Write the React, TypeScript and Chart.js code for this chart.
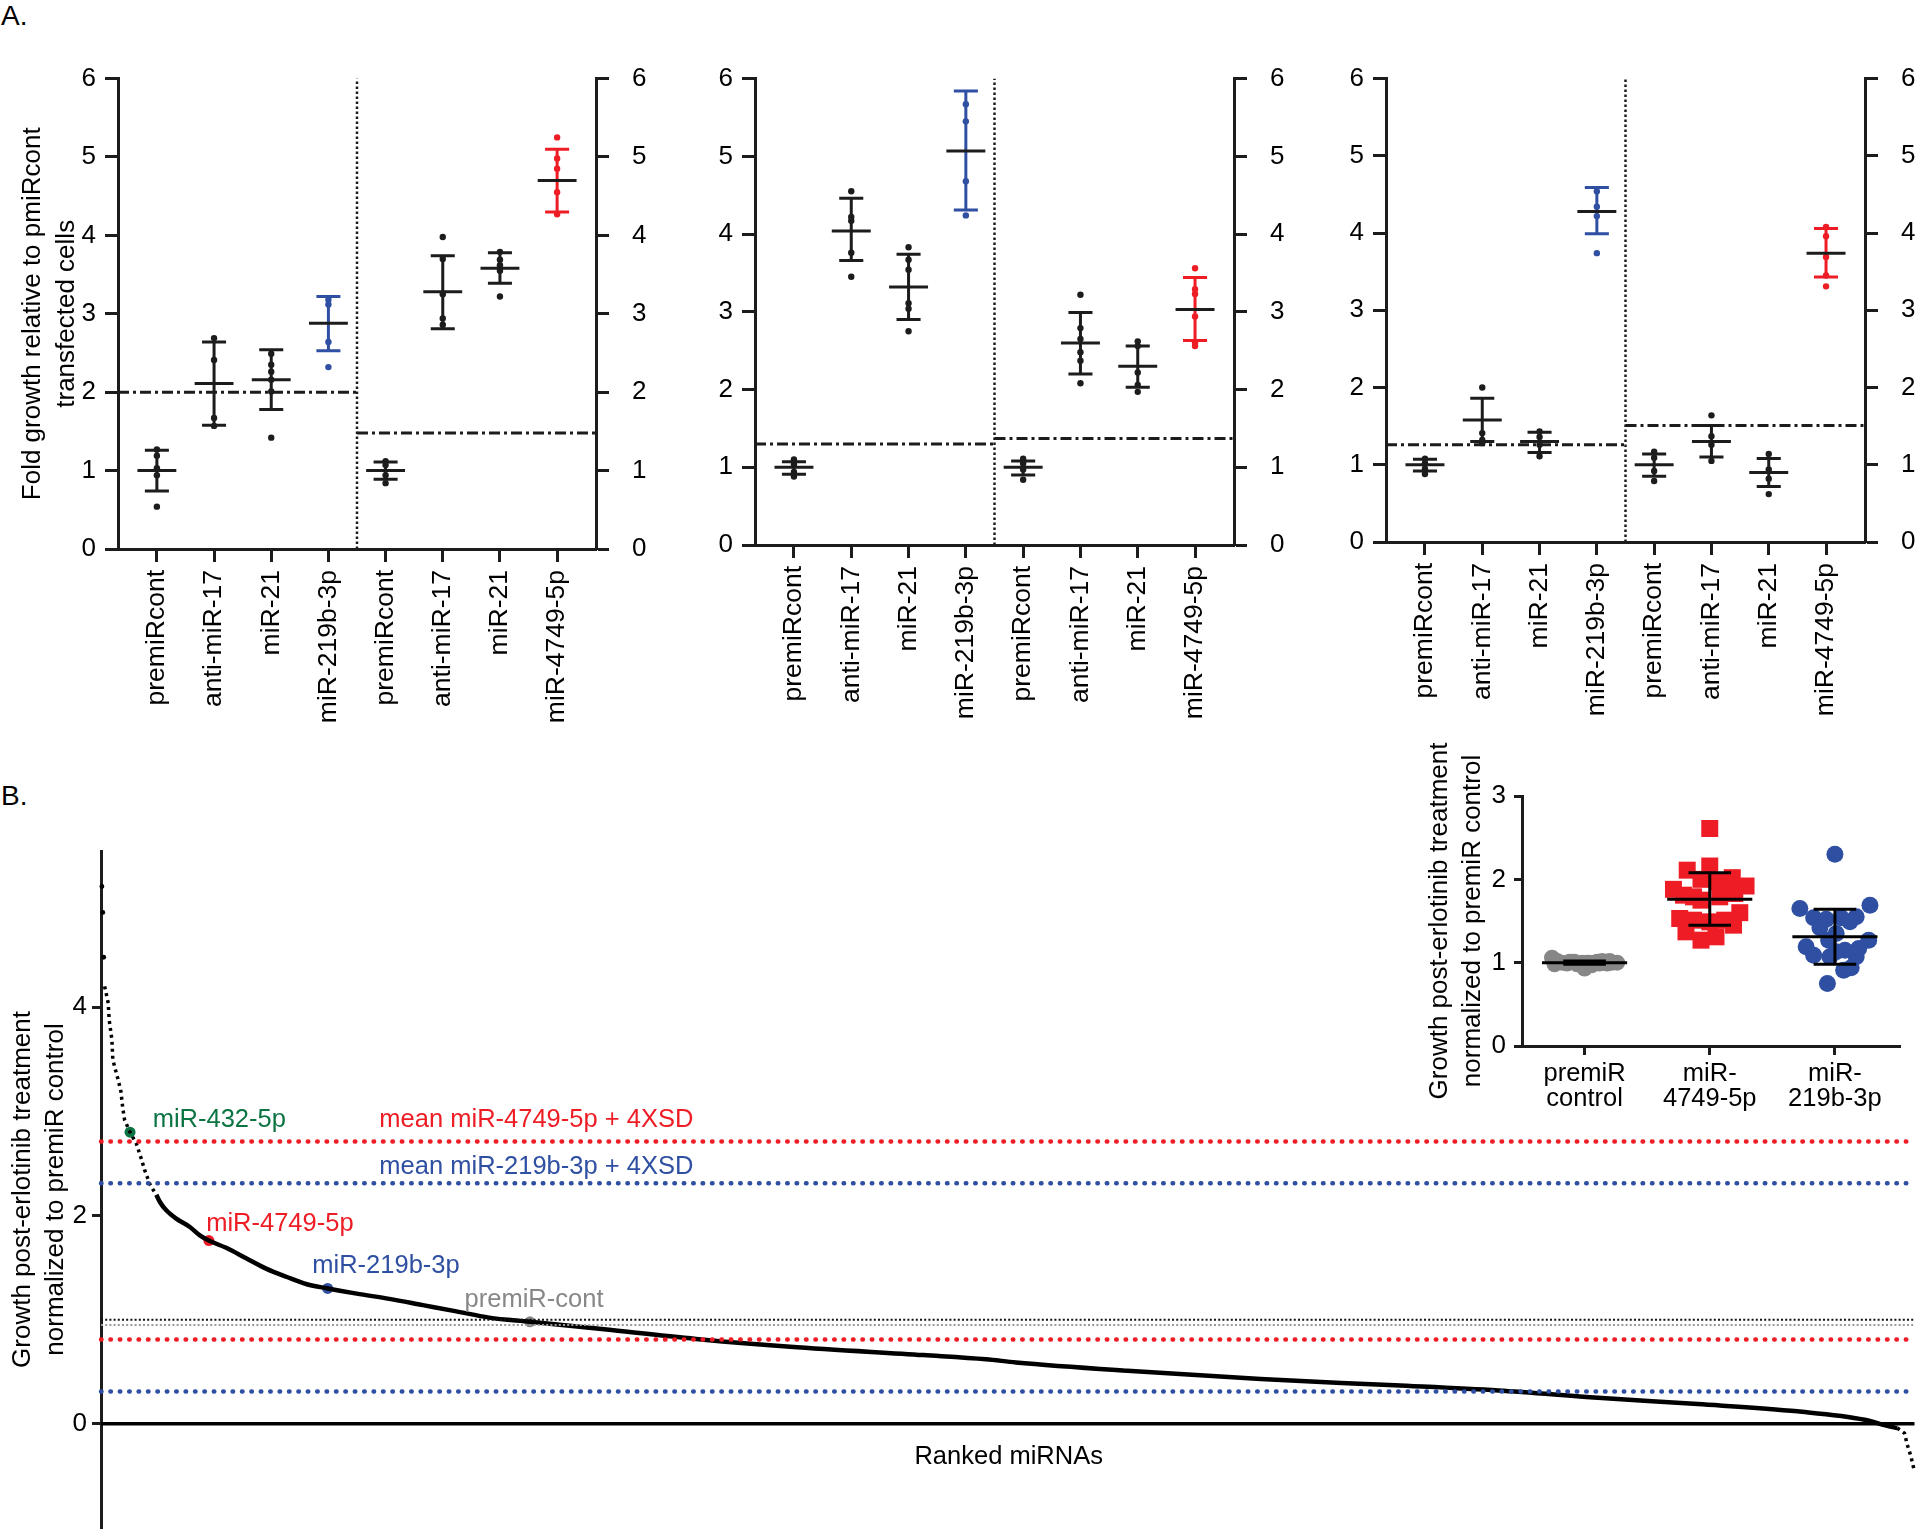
import React, { useEffect, useRef } from 'react';
import { Chart, registerables } from 'chart.js';

Chart.register(...registerables);

const FONT = '"Liberation Sans", Arial, Helvetica, sans-serif';
Chart.defaults.font.family = FONT;
Chart.defaults.color = '#000';

const INK = '#1c1c1c';
const BLUE = '#2f4fa2';
const RED = '#ee1d25';
const GREEN = '#0c7442';
const GREY = '#878787';

// ---------------- Panel A data ----------------
const aCategories = ['premiRcont', 'anti-miR-17', 'miR-21', 'miR-219b-3p', 'premiRcont', 'anti-miR-17', 'miR-21', 'miR-4749-5p'];
const aColorKeys = ['k', 'k', 'k', 'b', 'k', 'k', 'k', 'r'];

const a1Points = [
  [1.27, 1.19, 1.03, 0.94, 0.54],
  [2.69, 2.41, 1.67, 1.57],
  [2.49, 2.35, 2.26, 2.16, 2.01, 1.42],
  [3.18, 3.12, 2.64, 2.32],
  [1.12, 1.07, 0.94, 0.84],
  [3.98, 3.7, 3.25, 2.94, 2.86],
  [3.79, 3.69, 3.62, 3.55, 3.22],
  [5.25, 4.98, 4.85, 4.55, 4.27],
];
const a1Means = [1.0, 2.11, 2.16, 2.88, 1.0, 3.28, 3.58, 4.7];
const a1SdHigh = [1.26, 2.64, 2.54, 3.22, 1.11, 3.74, 3.78, 5.1];
const a1SdLow = [0.74, 1.58, 1.78, 2.53, 0.89, 2.81, 3.39, 4.3];
const a1RefLines = [2.0, 1.48];

const a2Points = [
  [1.1, 1.04, 0.94, 0.88],
  [4.55, 4.22, 4.17, 3.76, 3.45],
  [3.83, 3.67, 3.54, 3.11, 3.04, 2.75],
  [5.67, 5.45, 4.68, 4.24],
  [1.11, 1.05, 0.97, 0.84],
  [3.22, 2.79, 2.65, 2.48, 2.37, 2.08],
  [2.62, 2.56, 2.22, 2.06, 1.97],
  [3.56, 3.29, 3.23, 2.94, 2.6, 2.56],
];
const a2Means = [1.0, 4.04, 3.32, 5.07, 1.0, 2.6, 2.3, 3.03];
const a2SdHigh = [1.07, 4.46, 3.74, 5.84, 1.08, 2.99, 2.56, 3.44];
const a2SdLow = [0.91, 3.66, 2.9, 4.31, 0.9, 2.2, 2.03, 2.63];
const a2RefLines = [1.3, 1.37];

const a3Points = [
  [1.08, 1.02, 0.95, 0.88],
  [2.0, 1.41, 1.32, 1.28],
  [1.43, 1.36, 1.26, 1.11],
  [4.54, 4.34, 4.22, 3.74],
  [1.17, 1.09, 0.92, 0.79],
  [1.64, 1.37, 1.26, 1.05],
  [1.14, 0.94, 0.82, 0.62],
  [4.08, 3.96, 3.69, 3.45, 3.31],
];
const a3Means = [1.0, 1.58, 1.3, 4.28, 1.0, 1.3, 0.9, 3.74];
const a3SdHigh = [1.07, 1.86, 1.42, 4.59, 1.14, 1.51, 1.08, 4.06];
const a3SdLow = [0.92, 1.3, 1.16, 3.99, 0.85, 1.1, 0.72, 3.43];
const a3RefLines = [1.26, 1.51];

// ---------------- Panel B (ranked screen) data ----------------
const topRanks = [1, 2, 3];
const topValues = [5.16, 4.91, 4.48];
const upperRanks = [4, 8, 9, 12, 13, 15, 19, 22, 24, 26, 32, 39, 45, 48, 54, 58, 61];
const upperValues = [4.2, 4.04, 3.88, 3.69, 3.5, 3.43, 3.3, 3.19, 3.03, 2.92, 2.8, 2.69, 2.53, 2.44, 2.3, 2.24, 2.2];
const mainRanks = [61, 65, 72, 83, 98, 109, 119, 138, 160, 182, 205, 227, 250, 282, 318, 355, 392, 428, 473, 563, 662, 760, 907, 976, 1009, 1132, 1279, 1427, 1541, 1651, 1761, 1871, 1945, 1970, 1981];
const mainValues = [2.2, 2.13, 2.05, 1.97, 1.89, 1.81, 1.76, 1.69, 1.59, 1.49, 1.41, 1.34, 1.3, 1.25, 1.2, 1.14, 1.08, 1.02, 0.98, 0.9, 0.81, 0.74, 0.66, 0.62, 0.59, 0.51, 0.43, 0.37, 0.32, 0.25, 0.19, 0.12, 0.04, -0.02, -0.04];
const tailRanks = [1981, 1989, 1992, 1996, 2000];
const tailValues = [-0.04, -0.09, -0.2, -0.31, -0.46];

const highlightNames = ['miR-432-5p', 'miR-4749-5p', 'miR-219b-3p', 'premiR-cont'];
const highlightRanks = [32, 119, 250, 473];
const highlightValues = [2.8, 1.76, 1.3, 0.98];

const thresholdRed4749Upper = 2.71;
const thresholdBlue219Upper = 2.31;
const controlMeanLine = 1.0;
const controlGreyLine = 0.95;
const thresholdRed4749Lower = 0.81;
const thresholdBlue219Lower = 0.31;

// ---------------- Inset data ----------------
const insetCategories = [['premiR', 'control'], ['miR-', '4749-5p'], ['miR-', '219b-3p']];
const insetControl = [1.06, 1.02, 1.0, 0.99, 1.01, 0.98, 1.0, 1.0, 0.97, 0.93, 1.01, 1.02, 0.99, 1.0, 1.0, 0.98, 1.01, 1.0, 0.99, 1.02, 1.0, 1.01];
const insetControlJitter = [-0.26, -0.22, -0.18, -0.14, -0.1, -0.06, -0.02, 0.02, 0.06, 0.0, 0.1, 0.14, 0.18, 0.22, 0.26, -0.24, -0.12, 0.04, 0.12, 0.2, 0.08, -0.08];
const inset4749 = [2.61, 2.11, 2.16, 2.0, 1.97, 2.02, 1.88, 1.92, 1.81, 1.79, 1.75, 1.79, 1.83, 1.6, 1.53, 1.51, 1.49, 1.51, 1.45, 1.37, 1.27, 1.31];
const inset4749Jitter = [0, -0.18, 0, -0.07, 0.07, 0.18, -0.29, 0.29, -0.21, -0.13, -0.07, 0.08, 0.2, 0.24, -0.24, -0.13, 0, 0.12, 0.19, -0.19, -0.07, 0.05];
const inset219 = [2.3, 1.65, 1.69, 1.54, 1.52, 1.54, 1.55, 1.49, 1.42, 1.35, 1.27, 1.27, 1.19, 1.15, 1.17, 1.09, 1.07, 1.13, 1.07, 0.91, 0.94, 0.75];
const inset219Jitter = [0, -0.28, 0.28, -0.17, -0.07, 0.05, 0.17, 0.12, -0.12, 0.01, -0.05, 0.27, -0.23, 0.08, 0.19, -0.17, -0.04, 0.01, 0.17, 0.07, 0.13, -0.06];
const insetMeans = [1.0, 1.76, 1.31];
const insetSdHigh = [1.02, 2.08, 1.64];
const insetSdLow = [0.98, 1.45, 0.98];

// ---------------- helpers ----------------
const baseOptions = (padding: any) => ({
  responsive: false,
  maintainAspectRatio: false,
  animation: false,
  devicePixelRatio: 1,
  events: [],
  layout: { padding },
  plugins: { legend: { display: false }, tooltip: { enabled: false } },
});

const tickGrid = (len: number) => ({
  display: true,
  drawOnChartArea: false,
  drawTicks: true,
  tickLength: len,
  tickWidth: 3,
  tickColor: INK,
  color: INK,
});
const axisBorder = { display: true, width: 3, color: INK };

function ChartBox({ left, top, width, height, make }: { left: number; top: number; width: number; height: number; make: () => any }) {
  const ref = useRef<HTMLCanvasElement | null>(null);
  useEffect(() => {
    if (!ref.current) return;
    const chart = new Chart(ref.current, make());
    return () => chart.destroy();
  }, []);
  return <canvas ref={ref} width={width} height={height} style={{ position: 'absolute', left, top, width, height }} />;
}

type PanelAData = { points: number[][]; means: number[]; sdHi: number[]; sdLo: number[]; refs: number[] };
type PanelALayout = { leftW: number; rightW: number; padTop: number; xH: number; title?: string[] };

function panelAConfig(d: PanelAData, lay: PanelALayout) {
  const X_MIN = -0.68;
  const X_MAX = 7.68;
  const DIV = 3.5;
  const keyColor = (k: string) => (k === 'b' ? BLUE : k === 'r' ? RED : INK);
  const dots: Record<string, { x: number; y: number }[]> = { k: [], b: [], r: [] };
  d.points.forEach((vals, i) => vals.forEach((v) => dots[aColorKeys[i]].push({ x: i, y: v })));
  const refStyle = { type: 'line', borderColor: INK, borderWidth: 3, borderDash: [11, 4, 3, 4], pointRadius: 0, fill: false };
  const datasets: any[] = [
    { ...refStyle, data: [{ x: X_MIN, y: d.refs[0] }, { x: DIV, y: d.refs[0] }] },
    { ...refStyle, data: [{ x: DIV, y: d.refs[1] }, { x: X_MAX, y: d.refs[1] }] },
    { type: 'line', data: [{ x: DIV, y: 0 }, { x: DIV, y: 6 }], borderColor: INK, borderWidth: 2.5, borderDash: [2.5, 2.5], pointRadius: 0 },
    ...['k', 'b', 'r'].map((k) => ({ type: 'scatter', data: dots[k], backgroundColor: keyColor(k), borderWidth: 0, pointRadius: 3.2 })),
  ];
  const errPlugin = {
    id: 'errA',
    afterDatasetsDraw(chart: any) {
      const { ctx } = chart;
      const x = chart.scales.x;
      const y = chart.scales.y;
      ctx.save();
      ctx.lineWidth = 3;
      d.means.forEach((m, i) => {
        const px = x.getPixelForValue(i);
        const cap = x.getPixelForValue(i + 0.21) - px;
        const half = x.getPixelForValue(i + 0.34) - px;
        const yHi = y.getPixelForValue(d.sdHi[i]);
        const yLo = y.getPixelForValue(d.sdLo[i]);
        const yM = y.getPixelForValue(m);
        ctx.strokeStyle = keyColor(aColorKeys[i]);
        ctx.beginPath();
        ctx.moveTo(px, yHi);
        ctx.lineTo(px, yLo);
        ctx.moveTo(px - cap, yHi);
        ctx.lineTo(px + cap, yHi);
        ctx.moveTo(px - cap, yLo);
        ctx.lineTo(px + cap, yLo);
        ctx.stroke();
        ctx.strokeStyle = INK;
        ctx.beginPath();
        ctx.moveTo(px - half, yM);
        ctx.lineTo(px + half, yM);
        ctx.stroke();
      });
      ctx.restore();
    },
  };
  return {
    type: 'scatter',
    data: { datasets },
    plugins: [errPlugin],
    options: {
      ...baseOptions({ top: lay.padTop, left: 0, right: 0, bottom: 0 }),
      scales: {
        x: {
          type: 'linear',
          bounds: 'data',
          min: X_MIN,
          max: X_MAX,
          afterBuildTicks: (s: any) => {
            s.ticks = aCategories.map((_, i) => ({ value: i }));
          },
          afterFit: (s: any) => {
            s.height = lay.xH;
          },
          ticks: {
            callback: (v: number) => aCategories[Math.round(v)] ?? '',
            autoSkip: false,
            minRotation: 90,
            maxRotation: 90,
            font: { size: 26.5 },
            padding: 8,
            color: '#000',
          },
          grid: tickGrid(13),
          border: axisBorder,
        },
        y: {
          position: 'left',
          bounds: 'data',
          min: 0,
          max: 6,
          ticks: { stepSize: 1, font: { size: 26 }, padding: 9, color: '#000' },
          afterFit: (s: any) => {
            s.width = lay.leftW;
          },
          grid: tickGrid(13),
          border: axisBorder,
          title: lay.title
            ? { display: true, text: lay.title, font: { size: 26, lineHeight: 1.3 }, padding: { top: 16, bottom: 0 }, color: '#000' }
            : { display: false },
        },
        y2: {
          position: 'right',
          bounds: 'data',
          min: 0,
          max: 6,
          ticks: { stepSize: 1, font: { size: 26 }, padding: 23, color: '#000' },
          afterFit: (s: any) => {
            s.width = lay.rightW;
          },
          grid: tickGrid(13),
          border: axisBorder,
        },
      },
    },
  };
}

const bAnnotations = [
  { text: 'miR-432-5p', color: GREEN, rank: 57, value: 2.92, align: 'left' },
  { text: 'mean miR-4749-5p + 4XSD', color: RED, rank: 307, value: 2.92, align: 'left' },
  { text: 'mean miR-219b-3p + 4XSD', color: BLUE, rank: 307, value: 2.47, align: 'left' },
  { text: 'miR-4749-5p', color: RED, rank: 116, value: 1.92, align: 'left' },
  { text: 'miR-219b-3p', color: BLUE, rank: 233, value: 1.52, align: 'left' },
  { text: 'premiR-cont', color: GREY, rank: 401, value: 1.19, align: 'left' },
  { text: 'Ranked miRNAs', color: '#000', rank: 1001, value: -0.32, align: 'center' },
];

function panelBConfig() {
  const hLine = (v: number, color: string, width: number, dash: number[], cap = 'butt') => ({
    type: 'line',
    data: [{ x: 0, y: v }, { x: 2000, y: v }],
    borderColor: color,
    borderWidth: width,
    borderDash: dash,
    borderCapStyle: cap,
    pointRadius: 0,
  });
  const pts = (r: number[], v: number[]) => r.map((x, i) => ({ x, y: v[i] }));
  const hlColors = [GREEN, RED, BLUE, GREY];
  const datasets: any[] = [
    hLine(controlMeanLine, '#111', 2, [2, 2.2]),
    hLine(controlGreyLine, '#9a9a9a', 2, [2, 2.2]),
    hLine(thresholdRed4749Upper, RED, 4.5, [0.5, 8.9], 'round'),
    hLine(thresholdBlue219Upper, BLUE, 4.5, [0.5, 8.9], 'round'),
    hLine(thresholdRed4749Lower, RED, 4.5, [0.5, 8.9], 'round'),
    hLine(thresholdBlue219Lower, BLUE, 4.5, [0.5, 8.9], 'round'),
    hLine(0, '#000', 3.5, []),
    { type: 'line', data: pts(upperRanks, upperValues), borderColor: '#000', borderWidth: 3.5, borderDash: [3, 4], pointRadius: 0 },
    {
      type: 'line',
      data: pts(mainRanks, mainValues),
      borderColor: '#000',
      borderWidth: 4.5,
      pointRadius: 0,
      borderJoinStyle: 'round',
      cubicInterpolationMode: 'monotone',
    },
    { type: 'line', data: pts(tailRanks, tailValues), borderColor: '#000', borderWidth: 3.5, borderDash: [3, 4], pointRadius: 0 },
    { type: 'scatter', data: pts(topRanks, topValues), backgroundColor: '#000', borderWidth: 0, pointRadius: 2.4 },
    ...highlightNames.map((_, i) => ({
      type: 'scatter',
      data: [{ x: highlightRanks[i], y: highlightValues[i] }],
      backgroundColor: hlColors[i],
      borderWidth: 0,
      pointRadius: 5.5,
    })),
  ];
  const textPlugin = {
    id: 'bText',
    afterDatasetsDraw(chart: any) {
      const { ctx } = chart;
      const x = chart.scales.x;
      const y = chart.scales.y;
      ctx.save();
      ctx.font = `25.5px ${FONT}`;
      ctx.textBaseline = 'middle';
      bAnnotations.forEach((a) => {
        ctx.fillStyle = a.color;
        ctx.textAlign = a.align;
        ctx.fillText(a.text, x.getPixelForValue(a.rank), y.getPixelForValue(a.value));
      });
      ctx.restore();
    },
  };
  return {
    type: 'scatter',
    data: { datasets },
    plugins: [textPlugin],
    options: {
      ...baseOptions({ top: 71, left: 0, right: 3, bottom: 32 }),
      clip: false,
      scales: {
        x: { type: 'linear', bounds: 'data', min: 0, max: 2000, display: false },
        y: {
          position: 'left',
          bounds: 'data',
          min: -1,
          max: 5.5,
          afterBuildTicks: (s: any) => {
            s.ticks = [0, 2, 4].map((value) => ({ value }));
          },
          afterFit: (s: any) => {
            s.width = 101;
          },
          ticks: { font: { size: 26 }, padding: 5, color: '#000' },
          grid: tickGrid(9),
          border: axisBorder,
          title: {
            display: true,
            text: ['Growth post-erlotinib treatment', 'normalized to premiR control'],
            font: { size: 26, lineHeight: 1.28 },
            padding: { top: 6, bottom: 0 },
            color: '#000',
          },
        },
      },
    },
  };
}

function insetConfig() {
  const groups = [
    { vals: insetControl, jit: insetControlJitter, color: GREY, style: 'circle', r: 8 },
    { vals: inset4749, jit: inset4749Jitter, color: RED, style: 'rect', r: 12 },
    { vals: inset219, jit: inset219Jitter, color: BLUE, style: 'circle', r: 8.5 },
  ];
  const datasets = groups.map((g, gi) => ({
    type: 'scatter',
    data: g.vals.map((v, j) => ({ x: gi + g.jit[j], y: v })),
    pointStyle: g.style,
    pointRadius: g.r,
    backgroundColor: g.color,
    borderWidth: 0,
  }));
  const errPlugin = {
    id: 'errInset',
    afterDatasetsDraw(chart: any) {
      const { ctx } = chart;
      const x = chart.scales.x;
      const y = chart.scales.y;
      ctx.save();
      ctx.lineWidth = 3;
      ctx.strokeStyle = '#000';
      insetMeans.forEach((m, i) => {
        const px = x.getPixelForValue(i);
        const cap = x.getPixelForValue(i + 0.17) - px;
        const half = x.getPixelForValue(i + 0.34) - px;
        const yHi = y.getPixelForValue(insetSdHigh[i]);
        const yLo = y.getPixelForValue(insetSdLow[i]);
        const yM = y.getPixelForValue(m);
        ctx.beginPath();
        ctx.moveTo(px, yHi);
        ctx.lineTo(px, yLo);
        ctx.moveTo(px - cap, yHi);
        ctx.lineTo(px + cap, yHi);
        ctx.moveTo(px - cap, yLo);
        ctx.lineTo(px + cap, yLo);
        ctx.moveTo(px - half, yM);
        ctx.lineTo(px + half, yM);
        ctx.stroke();
      });
      ctx.restore();
    },
  };
  return {
    type: 'scatter',
    data: { datasets },
    plugins: [errPlugin],
    options: {
      ...baseOptions({ top: 96, left: 0, right: 20, bottom: 0 }),
      clip: false,
      scales: {
        x: {
          type: 'linear',
          bounds: 'data',
          min: -0.5,
          max: 2.52,
          afterBuildTicks: (s: any) => {
            s.ticks = insetCategories.map((_, i) => ({ value: i }));
          },
          afterFit: (s: any) => {
            s.height = 94;
          },
          ticks: {
            callback: (v: number) => insetCategories[Math.round(v)] ?? '',
            autoSkip: false,
            maxRotation: 0,
            minRotation: 0,
            font: { size: 25.5, lineHeight: 1.0 },
            padding: 6,
            color: '#000',
          },
          grid: tickGrid(9),
          border: axisBorder,
        },
        y: {
          position: 'left',
          bounds: 'data',
          min: 0,
          max: 3,
          ticks: { stepSize: 1, font: { size: 26 }, padding: 8, color: '#000' },
          afterFit: (s: any) => {
            s.width = 122;
          },
          grid: tickGrid(8),
          border: axisBorder,
          title: {
            display: true,
            text: ['Growth post-erlotinib treatment', 'normalized to premiR control'],
            font: { size: 26, lineHeight: 1.25 },
            padding: { top: 24, bottom: 0 },
            color: '#000',
          },
        },
      },
    },
  };
}

const panelLetter: React.CSSProperties = {
  position: 'absolute',
  fontFamily: FONT,
  fontSize: 28,
  lineHeight: '28px',
  color: '#000',
};

export default function App() {
  return (
    <div style={{ position: 'absolute', left: 0, top: 0, width: 1920, height: 1531, overflow: 'hidden', background: '#fff' }}>
      <div style={{ ...panelLetter, left: 1, top: 2 }}>A.</div>
      <div style={{ ...panelLetter, left: 1, top: 782 }}>B.</div>
      <ChartBox
        left={0}
        top={40}
        width={680}
        height={700}
        make={() =>
          panelAConfig(
            { points: a1Points, means: a1Means, sdHi: a1SdHigh, sdLo: a1SdLow, refs: a1RefLines },
            { leftW: 118, rightW: 84, padTop: 30, xH: 191, title: ['Fold growth relative to pmiRcont', 'transfected cells'] }
          )
        }
      />
      <ChartBox
        left={680}
        top={40}
        width={620}
        height={700}
        make={() =>
          panelAConfig(
            { points: a2Points, means: a2Means, sdHi: a2SdHigh, sdLo: a2SdLow, refs: a2RefLines },
            { leftW: 75, rightW: 66, padTop: 28, xH: 195 }
          )
        }
      />
      <ChartBox
        left={1300}
        top={40}
        width={620}
        height={700}
        make={() =>
          panelAConfig(
            { points: a3Points, means: a3Means, sdHi: a3SdHigh, sdLo: a3SdLow, refs: a3RefLines },
            { leftW: 86, rightW: 55, padTop: 24, xH: 198 }
          )
        }
      />
      <ChartBox left={0} top={780} width={1920} height={780} make={panelBConfig} />
      <ChartBox left={1400} top={700} width={520} height={440} make={insetConfig} />
    </div>
  );
}
